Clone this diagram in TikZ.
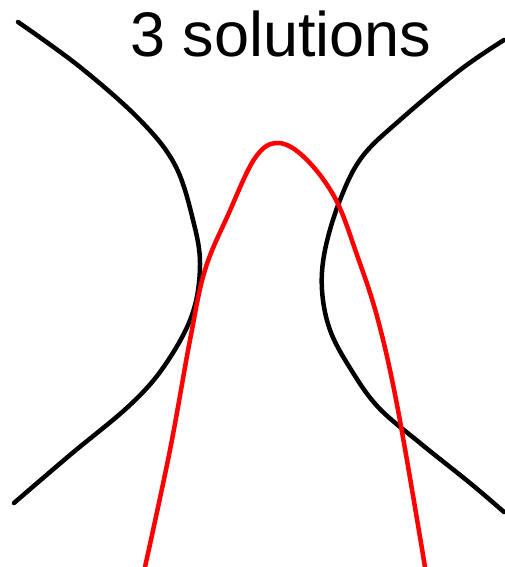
\documentclass[tikz,border=0pt]{standalone}
\usepackage{fontspec}
\setmainfont{Liberation Sans}
\usepackage{tikz}
\usetikzlibrary{positioning}

\begin{document}
\begin{tikzpicture}[x=1pt, y=-1pt, line width=4.5pt, line cap=round,
    curve/.style={smooth, tension=0.6}]
  \useasboundingbox (0,0) rectangle (504,567);

  % Titel
  \node[font=\fontsize{63}{70}\selectfont, anchor=base] (title) at (281,57) {3 solutions};

  % linke Kurve
  \draw[black] plot[curve] coordinates {(18,22) (80,67) (140,120) (175,165) (193,220)
    (200,265) (192,315) (165,365) (130,405) (70,455) (14,503)};

  % rechte Kurve
  \draw[black] plot[curve] coordinates {(504,40) (460,70) (400,120) (362,157) (340,200)
    (325,250) (322,290) (330,330) (350,368) (378,407) (420,443) (470,483) (504,512)};

  % rote Kurve
  \draw[red] plot[curve] coordinates {(145,567) (170,450) (190,340) (205,270) (228,215)
    (255,158) (278,143) (305,158) (335,198) (357,255) (378,320) (398,410) (425,567)};
\end{tikzpicture}
\end{document}
